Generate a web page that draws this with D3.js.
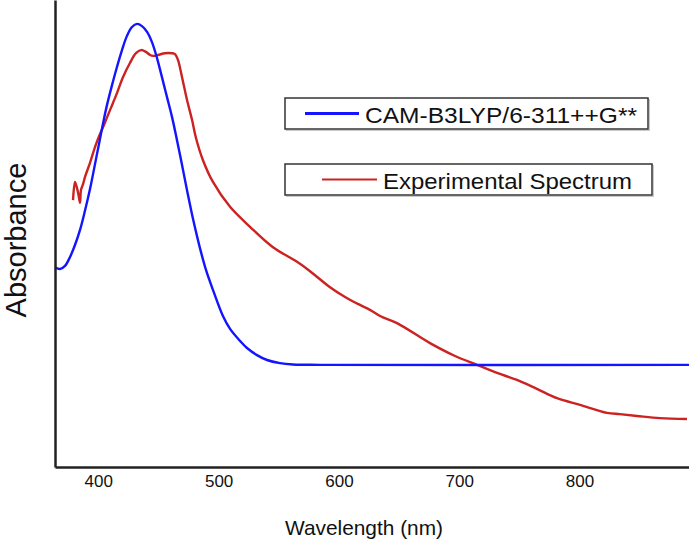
<!DOCTYPE html>
<html>
<head>
<meta charset="utf-8">
<script src="https://cdn.jsdelivr.net/npm/d3@7"></script>
<style>
  html, body { margin: 0; padding: 0; background: #fff; }
  svg { display: block; }
  text { font-family: "Liberation Sans", Arial, sans-serif; fill: #111; }
</style>
</head>
<body>
<svg id="chart" width="689" height="542"></svg>
<script>
// ---- data ----
const xTicks = [400, 500, 600, 700, 800];
const xTitle = "Wavelength (nm)";
const yTitle = "Absorbance";
const seriesNames = ["CAM-B3LYP/6-311++G**", "Experimental Spectrum"];

const calcWavelength = [364, 368.2, 372.3, 376.5, 380.6, 384.8, 388.9, 393.1, 398.1, 401.4, 404.7, 407.2,
  411.4, 415.5, 419.7, 423.8, 428.0, 432.2, 436.3, 440.5, 444.6, 448.8, 452.9, 457.1, 461.3, 465.4,
  469.6, 473.7, 478.7, 484.5, 489.5, 495.3, 503.6, 509.5, 517.8, 523.6, 531.9, 540.2, 551.0, 561.8,
  584.3, 891];
const calcAbsorbance = [0.450, 0.446, 0.453, 0.473, 0.500, 0.534, 0.577, 0.626, 0.694, 0.739, 0.784, 0.815,
  0.860, 0.901, 0.939, 0.971, 0.991, 0.998, 0.993, 0.980, 0.957, 0.921, 0.878, 0.833, 0.788, 0.736,
  0.680, 0.624, 0.559, 0.493, 0.444, 0.399, 0.340, 0.311, 0.284, 0.268, 0.252, 0.241, 0.234, 0.231,
  0.230, 0.230];

const expWavelength = [379.0, 380.6, 382.3, 383.5, 384.8, 385.6, 387.3, 388.9, 393.1, 397.3, 401.4, 404.7,
  408.1, 412.2, 415.5, 420.5, 426.3, 431.3, 435.5, 439.6, 443.0, 445.5, 449.6, 455.4, 461.3, 463.7,
  466.2, 469.6, 473.7, 477.9, 481.2, 487.0, 495.3, 509.5, 526.1, 545.2, 565.2, 576.0, 592.6, 605.1,
  617.5, 625.8, 634.2, 648.3, 675.7, 696.5, 714.8, 731.4, 748.0, 764.6, 781.3, 800.4, 822.8,
  833.6, 847.8, 866.9, 889.3];
const expAbsorbance = [0.601, 0.642, 0.628, 0.613, 0.595, 0.624, 0.637, 0.653, 0.685, 0.721, 0.750, 0.770,
  0.793, 0.820, 0.842, 0.878, 0.910, 0.932, 0.939, 0.935, 0.928, 0.926, 0.928, 0.932, 0.932, 0.930,
  0.917, 0.878, 0.827, 0.782, 0.741, 0.691, 0.642, 0.586, 0.541, 0.495, 0.462, 0.441, 0.405, 0.383,
  0.365, 0.354, 0.340, 0.324, 0.279, 0.250, 0.230, 0.212, 0.196, 0.176, 0.155, 0.140, 0.122,
  0.119, 0.115, 0.110, 0.108];

const colors = ["#1414ff", "#cc2222"];

// ---- scales ----
const svg = d3.select("#chart");
const x = d3.scaleLinear().domain([364, 891]).range([55, 689]);
const y = d3.scaleLinear().domain([0, 1.0518]).range([467, 0]);

// ---- curves ----
const calc = calcWavelength.map((w, i) => ({ w, a: calcAbsorbance[i] }));
const exp = expWavelength.map((w, i) => ({ w, a: expAbsorbance[i] }));
const line = d3.line().x(d => x(d.w)).y(d => y(d.a)).curve(d3.curveCatmullRom.alpha(0.5));

svg.append("path").datum(exp).attr("d", line)
  .attr("fill", "none").attr("stroke", colors[1]).attr("stroke-width", 2.4)
  .attr("stroke-linejoin", "round");
svg.append("path").datum(calc).attr("d", line)
  .attr("fill", "none").attr("stroke", colors[0]).attr("stroke-width", 2.4)
  .attr("stroke-linejoin", "round");

// ---- axes ----
const xAxis = svg.append("g").attr("transform", "translate(0,467)")
  .call(d3.axisBottom(x).tickValues(xTicks).tickSize(0).tickSizeOuter(0).tickPadding(8));
xAxis.select(".domain").attr("stroke", "#222").attr("stroke-width", 2.5);
xAxis.selectAll("text").attr("font-size", 17).attr("fill", "#111")
  .style("font-family", "'Liberation Sans', Arial, sans-serif");

const yAxis = svg.append("g").attr("transform", "translate(55,0)")
  .call(d3.axisLeft(y).tickValues([]).tickSize(0).tickSizeOuter(0));
yAxis.select(".domain").attr("stroke", "#222").attr("stroke-width", 2.5);

// ---- axis titles ----
svg.append("text").attr("x", 364).attr("y", 535).attr("text-anchor", "middle")
  .attr("font-size", 21).attr("textLength", 158).attr("lengthAdjust", "spacingAndGlyphs")
  .text(xTitle);
svg.append("text").attr("transform", "translate(26,240) rotate(-90)")
  .attr("text-anchor", "middle").attr("font-size", 29)
  .text(yTitle);

// ---- legend ----
const legend = [
  { name: seriesNames[0], color: colors[0], bx: 285, by: 98, bw: 363, bh: 31, lx1: 305, lx2: 359, lw: 3, tx: 365, tl: 272 },
  { name: seriesNames[1], color: colors[1], bx: 285, by: 164, bw: 367, bh: 31, lx1: 322, lx2: 377, lw: 2, tx: 383, tl: 249 }
];
legend.forEach(l => {
  const g = svg.append("g");
  g.append("rect").attr("x", l.bx + 1.5).attr("y", l.by + 1.5).attr("width", l.bw).attr("height", l.bh)
    .attr("fill", "none").attr("stroke", "#c8c8c8").attr("stroke-width", 1);
  g.append("rect").attr("x", l.bx).attr("y", l.by).attr("width", l.bw).attr("height", l.bh)
    .attr("fill", "#fff").attr("stroke", "#333").attr("stroke-width", 1.5);
  g.append("line").attr("x1", l.lx1).attr("x2", l.lx2)
    .attr("y1", l.by + l.bh / 2).attr("y2", l.by + l.bh / 2)
    .attr("stroke", l.color).attr("stroke-width", l.lw);
  g.append("text").attr("x", l.tx).attr("y", l.by + 24.5)
    .attr("font-size", 22).attr("textLength", l.tl).attr("lengthAdjust", "spacingAndGlyphs")
    .text(l.name);
});
</script>
</body>
</html>
